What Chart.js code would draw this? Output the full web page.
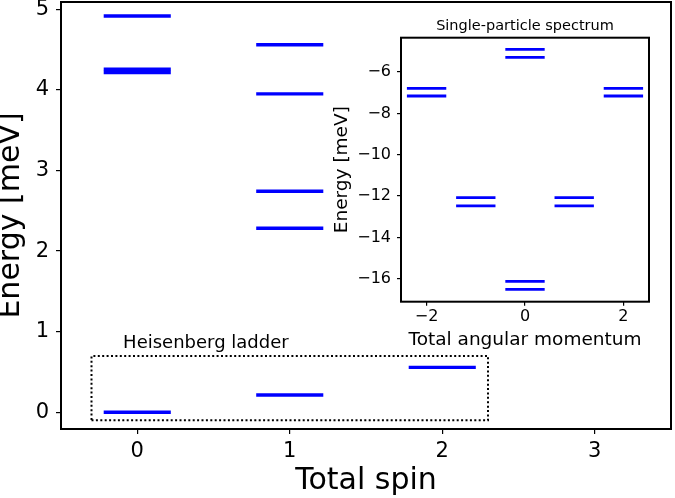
<!DOCTYPE html>
<html><head><meta charset="utf-8">
<script src="https://cdn.jsdelivr.net/npm/chart.js@4"></script>
<style>
html,body{margin:0;padding:0;background:#fff;}
#wrap{position:relative;width:675px;height:498px;overflow:hidden;}
#main{position:absolute;left:0;top:0;width:675px;height:498px;}
#inset{position:absolute;left:330px;top:0;width:345px;height:355px;}
</style></head><body>
<div id="wrap"><canvas id="main" width="675" height="498"></canvas><canvas id="inset" width="345" height="355"></canvas></div>
<script>
// ---- data ----
const totalSpin = [0, 0, 0, 0, 1, 1, 1, 1, 1, 2];
const manyBodyEnergy = [0.00, 4.215, 4.255, 4.917, 0.215, 2.283, 2.742, 3.95, 4.56, 0.558];
const mainXTicks = [0, 1, 2, 3];
const mainYTicks = [0, 1, 2, 3, 4, 5];

const angularMomentum = [-2, -2, -1, -1, 0, 0, 0, 0, 1, 1, 2, 2];
const singleParticleEnergy = [-6.79, -7.16, -12.08, -12.47, -4.90, -5.29, -16.13, -16.51, -12.08, -12.47, -6.79, -7.16];
const insetXTicks = [-2, 0, 2];
const insetYTicks = [-6, -8, -10, -12, -14, -16];

const ladderBox = {x0: -0.3, x1: 2.3, y0: -0.1, y1: 0.7};
const ladderLabel = {text: 'Heisenberg ladder', x: 0.45, y: 0.80};
const insetTitle = 'Single-particle spectrum';

// ---- styles ----
const FONT = "'DejaVu Sans', sans-serif";
const BLUE = '#0000ff';
const fmt = v => (v < 0 ? '\u2212' + Math.abs(v) : String(v));

function levelDatasets(xs, ys, halfWidth, width) {
  return xs.map((x, i) => ({
    data: [{x: x - halfWidth, y: ys[i]}, {x: x + halfWidth, y: ys[i]}],
    showLine: true, borderColor: BLUE, backgroundColor: BLUE,
    borderWidth: width, pointRadius: 0, borderCapStyle: 'butt', fill: false
  }));
}

const frame = {
  id: 'frame',
  beforeDatasetsDraw(chart) {
    const a = chart.chartArea, ctx = chart.ctx;
    ctx.save(); ctx.fillStyle = '#fff';
    ctx.fillRect(a.left, a.top, a.right - a.left, a.bottom - a.top);
    ctx.restore();
  },
  afterDraw(chart) {
    const a = chart.chartArea, ctx = chart.ctx;
    ctx.save(); ctx.strokeStyle = '#000'; ctx.lineWidth = 2;
    ctx.strokeRect(a.left, a.top, a.right - a.left, a.bottom - a.top);
    ctx.restore();
  }
};

function axis(min, max, ticks, size, tickFont, pad, tickLen, title, titleFont, titleLH) {
  return {
    type: 'linear', min, max,
    afterBuildTicks: s => { s.ticks = ticks.map(v => ({value: v})); },
    afterFit: s => {
      if (s.isHorizontal()) s.height = size; else s.width = size;
      s.paddingTop = 0; s.paddingBottom = 0; s.paddingLeft = 0; s.paddingRight = 0;
    },
    ticks: {font: {family: FONT, size: tickFont}, color: '#000', padding: pad, callback: v => fmt(v), maxRotation: 0, autoSkip: false},
    grid: {display: true, drawOnChartArea: false, drawTicks: true, tickLength: tickLen, color: '#000', lineWidth: 1.2},
    border: {display: false},
    title: {display: true, text: title, color: '#000', font: {family: FONT, size: titleFont, lineHeight: titleLH}, padding: 0}
  };
}

// ---- main chart ----
const mainDatasets = levelDatasets(totalSpin, manyBodyEnergy, 0.22, 3.4);
mainDatasets.push({
  data: [{x: ladderBox.x0, y: ladderBox.y0}, {x: ladderBox.x1, y: ladderBox.y0}, {x: ladderBox.x1, y: ladderBox.y1}, {x: ladderBox.x0, y: ladderBox.y1}, {x: ladderBox.x0, y: ladderBox.y0}],
  showLine: true, borderColor: '#000', borderWidth: 2, borderDash: [2, 2.4], pointRadius: 0, fill: false, tension: 0
});

const ladderText = {
  id: 'ladderText',
  afterDatasetsDraw(chart) {
    const ctx = chart.ctx, xs = chart.scales.x, ys = chart.scales.y;
    ctx.save();
    ctx.font = '18px ' + FONT; ctx.fillStyle = '#000';
    ctx.textAlign = 'center'; ctx.textBaseline = 'alphabetic';
    ctx.fillText(ladderLabel.text, xs.getPixelForValue(ladderLabel.x), ys.getPixelForValue(ladderLabel.y));
    ctx.restore();
  }
};

new Chart(document.getElementById('main'), {
  type: 'scatter',
  data: {datasets: mainDatasets},
  options: {
    responsive: false, animation: false, devicePixelRatio: 1,
    layout: {padding: {left: 0, right: 4, top: 2, bottom: 0}},
    plugins: {legend: {display: false}, tooltip: {enabled: false}},
    scales: {
      x: axis(-0.5, 3.5, mainXTicks, 69, 21, 5, 5, 'Total spin', 30, 1.11),
      y: axis(-0.207, 5.09, mainYTicks, 61, 21, 7, 5, 'Energy [meV]', 30, 0.75)
    }
  },
  plugins: [frame, ladderText]
});

// ---- inset chart ----
const insetTitlePlugin = {
  id: 'insetTitle',
  afterDraw(chart) {
    const a = chart.chartArea, ctx = chart.ctx;
    ctx.save();
    ctx.font = '14.5px ' + FONT; ctx.fillStyle = '#000';
    ctx.textAlign = 'center'; ctx.textBaseline = 'alphabetic';
    ctx.fillText(insetTitle, (a.left + a.right) / 2, a.top - 8);
    ctx.restore();
  }
};

new Chart(document.getElementById('inset'), {
  type: 'scatter',
  data: {datasets: levelDatasets(angularMomentum, singleParticleEnergy, 0.4, 2.8)},
  options: {
    responsive: false, animation: false, devicePixelRatio: 1,
    layout: {padding: {left: 0, right: 26, top: 37.7, bottom: 0}},
    plugins: {legend: {display: false}, tooltip: {enabled: false}},
    scales: {
      x: axis(-2.52, 2.52, insetXTicks, 53.3, 16, 2, 4, 'Total angular momentum', 18.5, 1.6),
      y: axis(-17.11, -4.34, insetYTicks, 71, 16, 6, 4, 'Energy [meV]', 18.5, 1.29)
    }
  },
  plugins: [frame, insetTitlePlugin]
});
</script>
</body></html>
